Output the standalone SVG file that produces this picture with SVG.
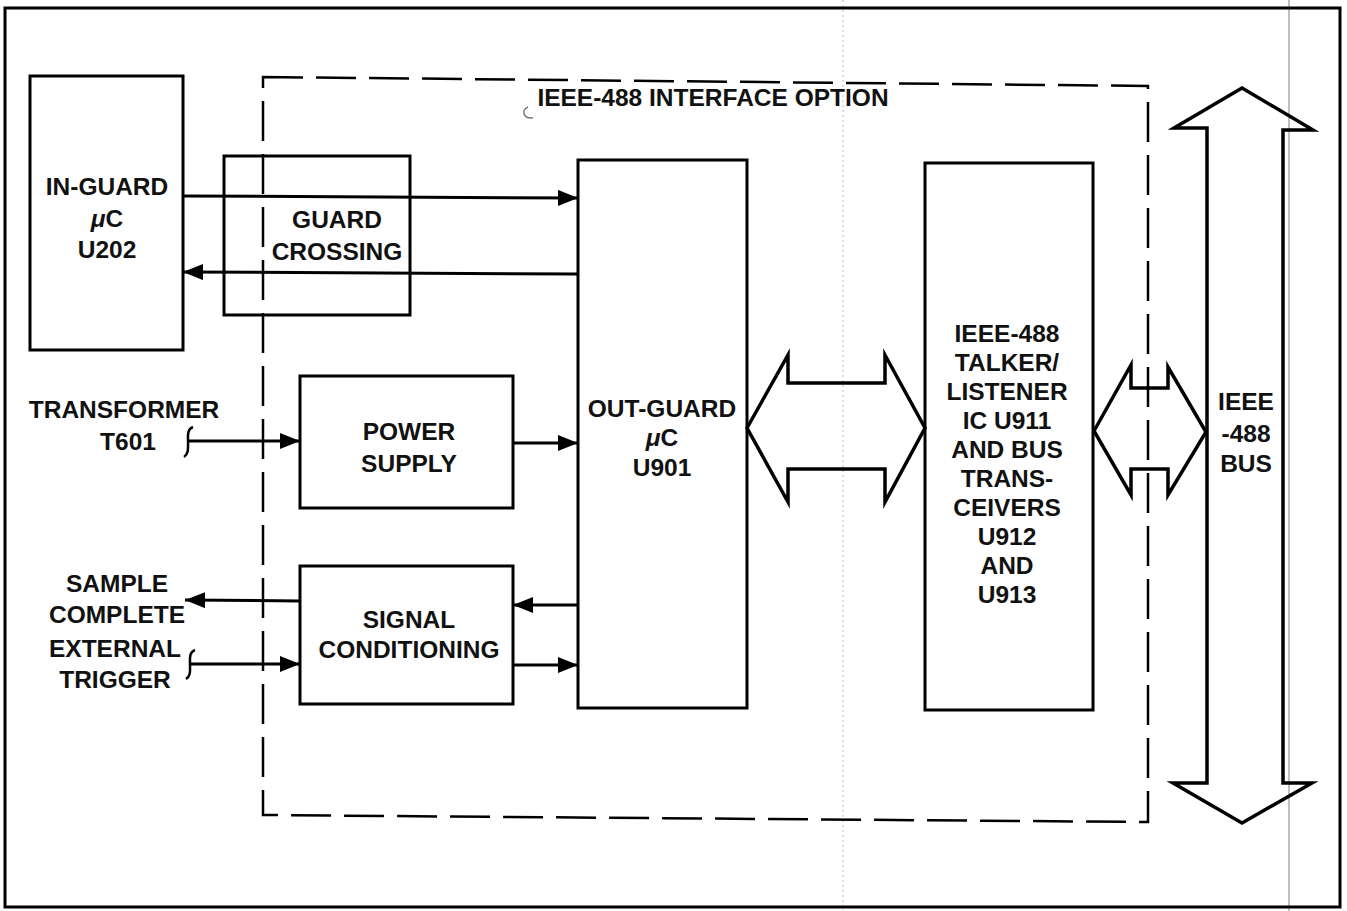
<svg xmlns="http://www.w3.org/2000/svg" width="1347" height="911" viewBox="0 0 1347 911">
<style>
.box{fill:none;stroke:#000;stroke-width:3}
.ln{fill:none;stroke:#000;stroke-width:3}
.dash{fill:none;stroke:#000;stroke-width:2.5;stroke-dasharray:40 13}
.big{fill:none;stroke:#000;stroke-width:3.5;stroke-linejoin:miter;stroke-miterlimit:6}
.sq{fill:none;stroke:#000;stroke-width:2.5}
.fold{fill:none;stroke:#aaa;stroke-width:1.5}
text{font-family:"Liberation Sans",Arial,Helvetica,sans-serif;font-weight:bold;font-size:24.5px;text-anchor:middle;fill:#111}
</style>
<defs>
<marker id="ah" viewBox="0 0 20 16" markerWidth="20" markerHeight="16" refX="20" refY="8" markerUnits="userSpaceOnUse" orient="auto">
<path d="M0,0 L20,8 L0,16 z" fill="#000"/>
</marker>
</defs>
<rect width="1347" height="911" fill="#fff"/>
<g id="scan-marks">
<line class="fold" x1="1289" y1="0" x2="1289" y2="911"/>
<line class="fold" x1="843" y1="0" x2="843" y2="911" style="stroke:#bbb;stroke-width:1;stroke-dasharray:2 3"/>
<path d="M528,107 C521,110 523,119 533,118" fill="none" stroke="#777" stroke-width="1.5"/>
</g>
<rect id="frame" x="5" y="8" width="1335" height="899" class="box"/>
<g id="interface-option">
<polygon class="dash" points="263,77 1148,86 1148,822 263,815"/>
<text x="713" y="106">IEEE-488 INTERFACE OPTION</text>
</g>
<g id="in-guard">
<rect class="box" x="30" y="76" width="153" height="274"/>
<text x="107" y="195">IN-GUARD</text>
<text x="107" y="227"><tspan font-style="italic">μ</tspan>C</text>
<text x="107" y="258">U202</text>
</g>
<g id="guard-crossing">
<rect class="box" x="224" y="156" width="186" height="159"/>
<text x="337" y="228">GUARD</text>
<text x="337" y="260">CROSSING</text>
</g>
<g id="out-guard">
<rect class="box" x="578" y="160" width="169" height="548"/>
<text x="662" y="417">OUT-GUARD</text>
<text x="662" y="446"><tspan font-style="italic">μ</tspan>C</text>
<text x="662" y="476">U901</text>
</g>
<g id="power-supply">
<rect class="box" x="300" y="376" width="213" height="132"/>
<text x="409" y="440">POWER</text>
<text x="409" y="472">SUPPLY</text>
</g>
<g id="signal-conditioning">
<rect class="box" x="300" y="566" width="213" height="138"/>
<text x="409" y="628">SIGNAL</text>
<text x="409" y="658">CONDITIONING</text>
</g>
<g id="talker-listener">
<rect class="box" x="925" y="163" width="168" height="547"/>
<text x="1007" y="342">IEEE-488</text>
<text x="1007" y="371">TALKER/</text>
<text x="1007" y="400">LISTENER</text>
<text x="1007" y="429">IC U911</text>
<text x="1007" y="458">AND BUS</text>
<text x="1007" y="487">TRANS-</text>
<text x="1007" y="516">CEIVERS</text>
<text x="1007" y="545">U912</text>
<text x="1007" y="574">AND</text>
<text x="1007" y="603">U913</text>
</g>
<g id="ieee-bus">
<polygon class="big" points="1242,88 1313,130 1283,130 1283,783 1312,783 1242,823 1173,783 1207,783 1207,128 1174,128"/>
<text x="1246" y="410">IEEE</text>
<text x="1246" y="442">-488</text>
<text x="1246" y="472">BUS</text>
</g>
<g id="transformer">
<text x="124" y="418">TRANSFORMER</text>
<text x="128" y="450">T601</text>
</g>
<g id="sample-complete">
<text x="117" y="592">SAMPLE</text>
<text x="117" y="623">COMPLETE</text>
</g>
<g id="external-trigger">
<text x="115" y="657">EXTERNAL</text>
<text x="115" y="688">TRIGGER</text>
</g>
<g id="connectors">
<line class="ln" x1="183" y1="196" x2="578" y2="198" marker-end="url(#ah)"/>
<line class="ln" x1="578" y1="274" x2="183" y2="272" marker-end="url(#ah)"/>
<path class="sq" d="M193,427 C187,429 188,436 188,441 C188,447 189,454 184,457"/>
<line class="ln" x1="188" y1="441" x2="300" y2="441" marker-end="url(#ah)"/>
<line class="ln" x1="513" y1="443" x2="578" y2="443" marker-end="url(#ah)"/>
<line class="ln" x1="300" y1="601" x2="185" y2="600" marker-end="url(#ah)"/>
<path class="sq" d="M195,650 C189,652 190,659 190,664 C190,670 191,676 186,679"/>
<line class="ln" x1="190" y1="664" x2="300" y2="664" marker-end="url(#ah)"/>
<line class="ln" x1="578" y1="605" x2="513" y2="605" marker-end="url(#ah)"/>
<line class="ln" x1="513" y1="665" x2="578" y2="665" marker-end="url(#ah)"/>
<polygon class="big" points="747,428 788,355 788,383 885,383 885,355 925,428 885,502 885,469 788,469 788,502"/>
<polygon class="big" points="1094,431 1131,365 1131,388 1168,388 1168,367 1206,432 1168,495 1168,469 1131,469 1131,495"/>
</g>
</svg>
